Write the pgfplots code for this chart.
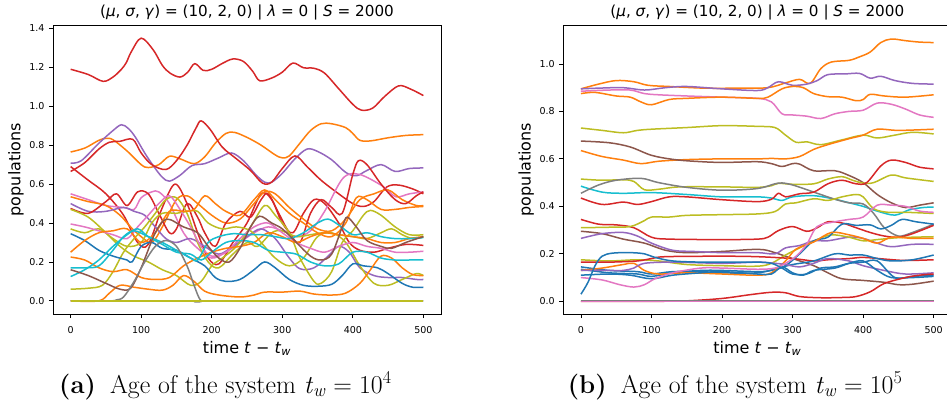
\documentclass[border=0pt]{standalone}
\usepackage{fontspec}
\usepackage{pgfplots}
\pgfplotsset{compat=1.18}
\newfontfamily\dejavu{DejaVu Sans}
\definecolor{c0}{HTML}{1F77B4}
\definecolor{c1}{HTML}{FF7F0E}
\definecolor{c2}{HTML}{2CA02C}
\definecolor{c3}{HTML}{D62728}
\definecolor{c4}{HTML}{9467BD}
\definecolor{c5}{HTML}{8C564B}
\definecolor{c6}{HTML}{E377C2}
\definecolor{c7}{HTML}{7F7F7F}
\definecolor{c8}{HTML}{BCBD22}
\definecolor{c9}{HTML}{17BECF}
\newcommand{\capt}[2]{\textbf{(#1)}\hspace{0.55em}Age of the system \textit{t}\textsubscript{\textit{w}}\hspace{0.28em}=\hspace{0.28em}10\textsuperscript{#2}}
\pgfplotsset{
  popstyle/.style={
    scale only axis, width=388pt, height=289pt,
    xmin=-25, xmax=525,
    xtick={0,100,200,300,400,500},
    tick align=outside, tick pos=left,
    major tick length=4pt,
    tick style={black, line width=0.8pt},
    axis line style={line width=0.8pt},
    /pgf/number format/assume math mode=true,
    ticklabel style={font=\dejavu\fontsize{9.5}{11}\selectfont},
    xticklabel style={yshift=-5pt},
    yticklabel style={xshift=-1pt, /pgf/number format/.cd, fixed, fixed zerofill, precision=1},
    title style={at={(0.5,1)}, anchor=base, yshift=2.7pt, font=\dejavu\fontsize{15.2}{18}\selectfont},
    title={(\textit{μ}, \textit{σ}, \textit{γ}) = (10, 2, 0) | \textit{λ} = 0 | \textit{S} = 2000},
    xlabel style={at={(axis description cs:0.5,0)}, anchor=base, yshift=-39pt, font=\dejavu\fontsize{16}{19}\selectfont},
    xlabel={time \textit{t} − \textit{t}\textsubscript{\textit{w}}},
    ylabel style={at={(axis description cs:-0.0954,0.5)}, anchor=center, font=\dejavu\fontsize{16}{19}\selectfont},
    ylabel={populations},
    every axis plot/.append style={line width=1.5pt, smooth, tension=0.55, no marks},
  }
}
\begin{document}
\begin{tikzpicture}
% ---------------- left panel ----------------
\begin{axis}[popstyle, at={(53pt,91pt)}, anchor=south west,
  ymin=-0.0675, ymax=1.4175, ytick={0,0.2,0.4,0.6,0.8,1.0,1.2,1.4}]
\addplot[c2, line width=2.2pt] coordinates {(0,0)(500,0)};
% A red top
\addplot[c3] coordinates {(0,1.19)(25,1.163)(46,1.128)(60,1.15)(72,1.19)(79,1.225)(86,1.28)(100,1.35)(117,1.29)(130,1.21)(141,1.17)(155,1.15)(166,1.175)(176,1.219)(188,1.184)(200,1.19)(215,1.22)(230,1.243)(245,1.23)(258,1.18)(268,1.131)(285,1.145)(300,1.175)(315,1.222)(330,1.198)(345,1.195)(360,1.17)(380,1.09)(400,1.01)(412,0.98)(428,0.99)(445,1.05)(465,1.105)(482,1.088)(500,1.055)};
% B orange
\addplot[c1] coordinates {(0,0.765)(20,0.785)(40,0.825)(50,0.835)(60,0.828)(80,0.77)(100,0.70)(110,0.685)(125,0.70)(140,0.743)(155,0.73)(175,0.705)(190,0.74)(205,0.81)(220,0.86)(232,0.866)(250,0.84)(270,0.80)(290,0.75)(300,0.735)(310,0.745)(325,0.81)(340,0.875)(355,0.91)(370,0.91)(390,0.89)(400,0.86)(410,0.825)(425,0.822)(450,0.838)(475,0.85)(500,0.854)};
% C purple
\addplot[c4] coordinates {(0,0.708)(15,0.72)(40,0.81)(60,0.875)(72,0.905)(82,0.885)(92,0.84)(105,0.76)(118,0.69)(130,0.635)(140,0.615)(155,0.645)(172,0.695)(190,0.705)(210,0.735)(228,0.76)(245,0.72)(262,0.65)(275,0.61)(285,0.61)(300,0.655)(318,0.73)(335,0.78)(350,0.768)(370,0.725)(390,0.66)(405,0.643)(420,0.67)(440,0.70)(460,0.665)(480,0.68)(500,0.683)};
% D red
\addplot[c3] coordinates {(0,0.665)(20,0.71)(40,0.78)(55,0.815)(70,0.82)(88,0.83)(100,0.76)(115,0.70)(135,0.675)(150,0.72)(165,0.80)(178,0.89)(185,0.925)(198,0.88)(215,0.79)(235,0.73)(255,0.67)(272,0.605)(285,0.61)(300,0.68)(318,0.745)(335,0.69)(355,0.62)(380,0.55)(400,0.50)(415,0.485)(430,0.51)(448,0.585)(465,0.595)(485,0.575)(500,0.55)};
% E red
\addplot[c3] coordinates {(0,0.69)(25,0.62)(50,0.55)(75,0.44)(95,0.30)(110,0.29)(130,0.48)(148,0.60)(165,0.50)(180,0.35)(195,0.22)(210,0.19)(230,0.30)(250,0.40)(270,0.55)(285,0.52)(300,0.40)(315,0.35)(330,0.45)(345,0.52)(360,0.50)(380,0.40)(395,0.30)(410,0.26)(430,0.25)(450,0.27)(475,0.29)(500,0.285)};
% F pink
\addplot[c6] coordinates {(0,0.55)(25,0.52)(50,0.49)(75,0.48)(90,0.47)(100,0.53)(115,0.56)(125,0.56)(140,0.50)(160,0.35)(180,0.27)(200,0.22)(220,0.25)(240,0.30)(260,0.35)(280,0.38)(300,0.36)(320,0.33)(340,0.36)(360,0.46)(386,0.63)(409,0.65)(442,0.59)(461,0.535)(480,0.55)(500,0.56)};
% G orange
\addplot[c1] coordinates {(0,0.535)(25,0.51)(50,0.49)(70,0.44)(85,0.38)(100,0.33)(115,0.30)(130,0.38)(150,0.52)(165,0.54)(180,0.50)(200,0.44)(220,0.40)(240,0.42)(260,0.50)(275,0.56)(290,0.55)(310,0.48)(330,0.42)(350,0.37)(370,0.36)(390,0.42)(410,0.52)(430,0.55)(450,0.57)(470,0.52)(490,0.49)(500,0.49)};
% H purple
\addplot[c4] coordinates {(0,0.50)(25,0.46)(50,0.46)(75,0.48)(90,0.46)(105,0.44)(120,0.38)(135,0.32)(150,0.30)(170,0.32)(190,0.28)(210,0.24)(230,0.28)(250,0.33)(270,0.37)(290,0.32)(310,0.22)(325,0.165)(345,0.17)(365,0.23)(380,0.28)(395,0.25)(410,0.17)(430,0.13)(450,0.12)(470,0.12)(490,0.11)(500,0.11)};
% I red
\addplot[c3] coordinates {(0,0.475)(25,0.45)(50,0.51)(65,0.55)(80,0.49)(95,0.56)(110,0.55)(125,0.45)(140,0.35)(150,0.37)(165,0.50)(180,0.43)(190,0.35)(205,0.28)(220,0.40)(240,0.46)(255,0.43)(270,0.52)(280,0.55)(295,0.45)(310,0.35)(325,0.30)(340,0.45)(355,0.52)(370,0.48)(385,0.45)(400,0.65)(408,0.72)(420,0.70)(440,0.60)(460,0.52)(475,0.50)(490,0.54)(500,0.56)};
% J olive
\addplot[c8] coordinates {(0,0.47)(25,0.43)(50,0.35)(70,0.28)(90,0.23)(110,0.20)(130,0.16)(150,0.13)(170,0.08)(185,0.10)(200,0.18)(215,0.22)(235,0.28)(255,0.38)(275,0.49)(290,0.44)(310,0.35)(325,0.22)(345,0.10)(355,0.09)(370,0.15)(385,0.30)(400,0.36)(415,0.44)(425,0.465)(440,0.44)(460,0.38)(480,0.34)(500,0.34)};
% L olive
\addplot[c8] coordinates {(0,0.37)(20,0.35)(40,0.37)(60,0.32)(80,0.28)(100,0.30)(115,0.40)(130,0.45)(150,0.45)(165,0.46)(180,0.46)(195,0.40)(215,0.37)(235,0.38)(255,0.36)(270,0.30)(290,0.22)(310,0.18)(330,0.22)(350,0.33)(370,0.35)(390,0.30)(410,0.18)(430,0.09)(450,0.08)(470,0.11)(490,0.14)(500,0.13)};
% S olive
\addplot[c8] coordinates {(0,0.06)(25,0.065)(45,0.08)(60,0.15)(75,0.25)(90,0.32)(105,0.38)(120,0.45)(135,0.52)(150,0.53)(165,0.45)(180,0.30)(195,0.20)(210,0.17)(230,0.24)(250,0.30)(265,0.28)(285,0.35)(300,0.36)(320,0.33)(340,0.34)(360,0.35)(380,0.34)(400,0.33)(420,0.32)(440,0.35)(455,0.37)(470,0.34)(485,0.32)(500,0.33)};
% K pink
\addplot[c6] coordinates {(0,0.395)(20,0.38)(40,0.36)(60,0.34)(80,0.32)(95,0.38)(110,0.44)(125,0.50)(140,0.54)(155,0.47)(170,0.38)(185,0.28)(200,0.23)(220,0.25)(240,0.32)(260,0.38)(280,0.40)(300,0.35)(320,0.30)(340,0.27)(360,0.25)(380,0.28)(400,0.30)(420,0.28)(440,0.27)(460,0.25)(480,0.25)(500,0.255)};
% M blue
\addplot[c0] coordinates {(0,0.345)(20,0.31)(40,0.26)(60,0.23)(80,0.21)(87,0.20)(100,0.28)(115,0.30)(130,0.27)(150,0.26)(170,0.22)(190,0.18)(205,0.12)(220,0.10)(240,0.11)(260,0.16)(275,0.20)(290,0.17)(310,0.11)(330,0.08)(350,0.075)(370,0.085)(385,0.13)(400,0.19)(415,0.18)(435,0.17)(450,0.14)(470,0.09)(485,0.07)(500,0.07)};
% N orange
\addplot[c1] coordinates {(0,0.25)(20,0.31)(40,0.35)(60,0.36)(80,0.37)(100,0.30)(120,0.35)(140,0.46)(160,0.46)(175,0.47)(190,0.54)(205,0.50)(220,0.46)(240,0.44)(260,0.52)(275,0.57)(290,0.52)(310,0.45)(330,0.40)(350,0.35)(370,0.33)(390,0.40)(405,0.53)(420,0.52)(440,0.47)(460,0.47)(480,0.48)(500,0.485)};
% O orange
\addplot[c1] coordinates {(0,0.225)(20,0.21)(40,0.17)(60,0.15)(80,0.16)(100,0.12)(120,0.11)(140,0.12)(160,0.18)(180,0.22)(200,0.25)(220,0.27)(240,0.28)(260,0.30)(280,0.35)(300,0.33)(320,0.30)(340,0.33)(360,0.35)(380,0.34)(400,0.33)(420,0.32)(440,0.30)(460,0.30)(480,0.32)(500,0.33)};
% T orange low
\addplot[c1] coordinates {(0,0)(40,0)(55,0.04)(70,0.08)(90,0.07)(110,0.06)(130,0.055)(145,0.08)(160,0.13)(175,0.10)(190,0.05)(210,0.03)(240,0.02)(260,0.03)(275,0.045)(300,0.045)(325,0.05)(345,0.035)(370,0.03)(390,0.04)(410,0.09)(425,0.16)(440,0.23)(455,0.22)(470,0.17)(485,0.135)(500,0.13)};
% P cyan
\addplot[c9] coordinates {(0,0.17)(20,0.17)(40,0.18)(60,0.26)(75,0.33)(90,0.36)(110,0.33)(130,0.30)(150,0.26)(170,0.22)(180,0.21)(195,0.30)(210,0.33)(230,0.345)(250,0.34)(270,0.34)(290,0.33)(310,0.32)(330,0.35)(350,0.40)(365,0.42)(380,0.39)(400,0.34)(420,0.35)(440,0.33)(460,0.32)(480,0.32)(500,0.325)};
% R cyan
\addplot[c9] coordinates {(0,0.125)(20,0.16)(40,0.21)(60,0.28)(80,0.34)(95,0.37)(110,0.33)(130,0.29)(150,0.25)(170,0.24)(185,0.21)(200,0.25)(220,0.30)(240,0.31)(260,0.30)(280,0.26)(300,0.25)(320,0.24)(340,0.20)(360,0.18)(380,0.19)(400,0.25)(420,0.25)(440,0.22)(460,0.21)(480,0.21)(500,0.21)};
% Q brown
\addplot[c5] coordinates {(0,0.16)(25,0.13)(50,0.09)(70,0.06)(85,0.065)(100,0.17)(120,0.35)(136,0.42)(160,0.38)(180,0.35)(195,0.28)(210,0.22)(225,0.20)(240,0.27)(255,0.38)(268,0.435)(285,0.40)(300,0.37)(320,0.30)(340,0.23)(355,0.21)(370,0.24)(385,0.38)(392,0.43)(405,0.38)(420,0.31)(440,0.28)(455,0.27)(475,0.30)(500,0.33)};
% U gray bump
\addplot[c7] coordinates {(0,0)(55,0)(65,0.005)(75,0.02)(90,0.10)(105,0.20)(120,0.28)(135,0.31)(150,0.28)(165,0.18)(175,0.08)(185,0)(200,0)(500,0)};
\addplot[c5, line width=2.2pt] coordinates {(0,0)(500,0)};
\addplot[c8, line width=1.6pt] coordinates {(0,0)(500,0)};
\end{axis}
% ---------------- right panel ----------------
\begin{axis}[popstyle, at={(563.3pt,91pt)}, anchor=south west,
  ymin=-0.0535, ymax=1.164, ytick={0,0.2,0.4,0.6,0.8,1.0}]
\addplot[c2] coordinates {(0,0)(500,0)};
\addplot[c1] coordinates {(0,0.895)(25,0.915)(50,0.93)(75,0.925)(95,0.91)(125,0.905)(175,0.898)(225,0.898)(265,0.90)(290,0.92)(310,0.935)(325,0.918)(340,0.98)(355,1.008)(380,1.015)(395,1.03)(410,1.05)(425,1.09)(440,1.105)(460,1.098)(480,1.092)(500,1.09)};
\addplot[c4] coordinates {(0,0.895)(25,0.898)(60,0.90)(90,0.89)(120,0.90)(150,0.905)(200,0.895)(250,0.888)(265,0.90)(280,0.925)(300,0.91)(320,0.915)(335,0.93)(350,0.955)(375,0.958)(395,0.96)(410,0.94)(425,0.948)(445,0.93)(470,0.918)(500,0.915)};
\addplot[c6] coordinates {(0,0.885)(40,0.89)(70,0.89)(90,0.875)(110,0.87)(150,0.865)(200,0.86)(250,0.855)(270,0.84)(285,0.79)(300,0.785)(320,0.78)(340,0.77)(360,0.79)(380,0.80)(400,0.805)(420,0.835)(440,0.83)(460,0.81)(480,0.785)(500,0.775)};
\addplot[c1] coordinates {(0,0.875)(20,0.88)(50,0.865)(70,0.86)(85,0.84)(100,0.828)(125,0.85)(150,0.855)(200,0.86)(250,0.855)(265,0.86)(285,0.895)(300,0.905)(315,0.90)(330,0.875)(350,0.862)(370,0.86)(390,0.845)(400,0.85)(410,0.872)(430,0.865)(460,0.86)(500,0.87)};
\addplot[c8] coordinates {(0,0.73)(30,0.72)(60,0.71)(80,0.72)(100,0.725)(150,0.732)(200,0.74)(250,0.737)(275,0.732)(290,0.70)(305,0.67)(320,0.672)(340,0.66)(370,0.68)(400,0.70)(420,0.688)(445,0.70)(470,0.712)(500,0.705)};
\addplot[c1] coordinates {(0,0.635)(30,0.61)(60,0.595)(85,0.58)(110,0.59)(150,0.597)(200,0.60)(250,0.60)(270,0.602)(290,0.60)(310,0.61)(330,0.64)(350,0.66)(380,0.685)(400,0.70)(420,0.725)(450,0.72)(500,0.725)};
\addplot[c5] coordinates {(0,0.675)(40,0.668)(70,0.65)(100,0.615)(130,0.598)(160,0.59)(200,0.585)(250,0.588)(270,0.58)(285,0.568)(300,0.58)(310,0.578)(330,0.55)(360,0.55)(380,0.53)(400,0.50)(420,0.45)(440,0.415)(460,0.395)(480,0.405)(500,0.415)};
\addplot[c8] coordinates {(0,0.515)(30,0.51)(60,0.512)(75,0.505)(90,0.47)(110,0.472)(140,0.482)(200,0.482)(250,0.48)(270,0.487)(280,0.497)(300,0.493)(330,0.495)(350,0.515)(370,0.525)(385,0.51)(400,0.498)(415,0.50)(440,0.532)(460,0.52)(500,0.505)};
\addplot[c9] coordinates {(0,0.485)(30,0.46)(60,0.455)(100,0.458)(150,0.45)(200,0.44)(250,0.44)(270,0.435)(285,0.425)(300,0.44)(330,0.445)(360,0.43)(380,0.415)(400,0.40)(420,0.38)(445,0.363)(465,0.385)(485,0.395)(500,0.397)};
\addplot[c7] coordinates {(0,0.455)(25,0.49)(50,0.51)(85,0.518)(110,0.50)(150,0.48)(200,0.468)(250,0.475)(280,0.498)(300,0.49)(330,0.46)(360,0.43)(380,0.415)(400,0.41)(415,0.37)(430,0.31)(450,0.275)(470,0.29)(500,0.325)};
\addplot[c3] coordinates {(0,0.435)(30,0.408)(60,0.418)(80,0.408)(100,0.42)(125,0.44)(150,0.44)(200,0.428)(250,0.42)(270,0.43)(280,0.455)(290,0.44)(310,0.453)(330,0.46)(350,0.495)(370,0.51)(390,0.495)(405,0.50)(425,0.57)(440,0.595)(460,0.585)(480,0.565)(500,0.558)};
\addplot[c3] coordinates {(0,0.345)(25,0.325)(50,0.322)(75,0.31)(100,0.27)(125,0.262)(200,0.26)(250,0.262)(265,0.27)(280,0.298)(300,0.315)(320,0.295)(335,0.31)(350,0.335)(370,0.33)(390,0.31)(410,0.29)(430,0.275)(450,0.27)(470,0.285)(500,0.32)};
\addplot[c8] coordinates {(0,0.31)(40,0.312)(70,0.315)(90,0.34)(100,0.355)(125,0.355)(150,0.362)(200,0.365)(250,0.368)(275,0.378)(290,0.41)(305,0.415)(330,0.432)(350,0.425)(370,0.44)(390,0.45)(400,0.44)(415,0.39)(435,0.375)(460,0.375)(500,0.37)};
\addplot[c5] coordinates {(0,0.295)(30,0.285)(60,0.262)(90,0.245)(120,0.215)(150,0.205)(200,0.21)(240,0.218)(260,0.217)(280,0.20)(300,0.18)(330,0.15)(350,0.12)(370,0.095)(400,0.088)(430,0.08)(450,0.07)(470,0.072)(500,0.085)};
\addplot[c4] coordinates {(0,0.265)(30,0.285)(60,0.29)(80,0.275)(100,0.245)(130,0.215)(160,0.21)(200,0.205)(250,0.205)(275,0.20)(290,0.225)(310,0.235)(330,0.255)(350,0.255)(380,0.27)(400,0.265)(420,0.245)(440,0.23)(470,0.24)(500,0.24)};
\addplot[c8] coordinates {(0,0.175)(40,0.17)(80,0.175)(110,0.17)(150,0.155)(200,0.15)(250,0.148)(270,0.16)(290,0.195)(310,0.225)(335,0.26)(355,0.28)(380,0.27)(400,0.255)(420,0.26)(450,0.268)(500,0.272)};
\addplot[c3] coordinates {(0,0.165)(40,0.165)(80,0.17)(100,0.18)(120,0.188)(200,0.19)(250,0.188)(300,0.18)(330,0.17)(350,0.175)(380,0.18)(400,0.185)(430,0.178)(460,0.172)(500,0.175)};
\addplot[c0] coordinates {(0,0.145)(40,0.13)(80,0.125)(100,0.115)(130,0.125)(170,0.125)(200,0.12)(250,0.12)(280,0.14)(300,0.155)(330,0.17)(360,0.20)(380,0.195)(400,0.195)(420,0.18)(440,0.17)(470,0.175)(500,0.195)};
\addplot[c0] coordinates {(0,0.135)(40,0.12)(80,0.115)(100,0.105)(130,0.12)(170,0.13)(200,0.13)(250,0.125)(270,0.13)(290,0.15)(310,0.20)(330,0.255)(350,0.27)(370,0.325)(390,0.32)(410,0.322)(425,0.305)(440,0.32)(455,0.345)(475,0.335)(500,0.325)};
\addplot[c1] coordinates {(0,0.13)(30,0.14)(60,0.155)(75,0.16)(90,0.13)(110,0.115)(150,0.12)(200,0.115)(250,0.11)(270,0.12)(290,0.17)(305,0.22)(330,0.25)(355,0.29)(380,0.28)(400,0.265)(420,0.245)(440,0.27)(470,0.265)(500,0.265)};
\addplot[c4] coordinates {(0,0.13)(40,0.13)(60,0.13)(75,0.14)(90,0.16)(130,0.165)(200,0.16)(250,0.165)(275,0.16)(290,0.155)(310,0.145)(330,0.16)(350,0.18)(380,0.17)(400,0.15)(430,0.13)(460,0.115)(500,0.12)};
\addplot[c0] coordinates {(0,0.11)(40,0.115)(70,0.11)(100,0.095)(130,0.11)(170,0.12)(200,0.125)(250,0.115)(270,0.115)(285,0.145)(300,0.12)(315,0.11)(330,0.13)(360,0.14)(380,0.16)(400,0.17)(420,0.13)(440,0.10)(470,0.10)(500,0.105)};
\addplot[c6] coordinates {(0,0.10)(30,0.09)(55,0.07)(75,0.06)(90,0.07)(105,0.095)(130,0.12)(170,0.14)(200,0.14)(250,0.135)(275,0.14)(290,0.16)(305,0.19)(320,0.24)(335,0.315)(360,0.335)(380,0.345)(400,0.355)(420,0.405)(440,0.405)(460,0.40)(480,0.38)(500,0.375)};
\addplot[c0] coordinates {(0,0.03)(10,0.08)(20,0.15)(30,0.19)(45,0.203)(70,0.205)(90,0.20)(105,0.185)(130,0.17)(170,0.165)(200,0.165)(250,0.165)(270,0.16)(285,0.14)(300,0.115)(320,0.115)(340,0.14)(360,0.145)(380,0.16)(400,0.165)(420,0.17)(445,0.10)(470,0.105)(500,0.11)};
\addplot[c3] coordinates {(0,0)(100,0)(150,0.002)(200,0.012)(240,0.028)(270,0.038)(290,0.036)(310,0.02)(340,0.015)(370,0.016)(390,0.02)(410,0.04)(430,0.075)(460,0.10)(480,0.11)(500,0.115)};
\addplot[c7, line width=2.2pt] coordinates {(0,0)(500,0)};
\addplot[c6, line width=1.6pt] coordinates {(0,0)(500,0)};
\end{axis}
% captions
\node[anchor=base west, inner sep=0pt, font=\fontsize{25.8}{30}\selectfont] at (59pt,12pt) {\capt{a}{4}};
\node[anchor=base west, inner sep=0pt, font=\fontsize{25.8}{30}\selectfont] at (567.7pt,12pt) {\capt{b}{5}};
\pgfresetboundingbox
\useasboundingbox (0,0) rectangle (947pt,405pt);
\end{tikzpicture}
\end{document}
